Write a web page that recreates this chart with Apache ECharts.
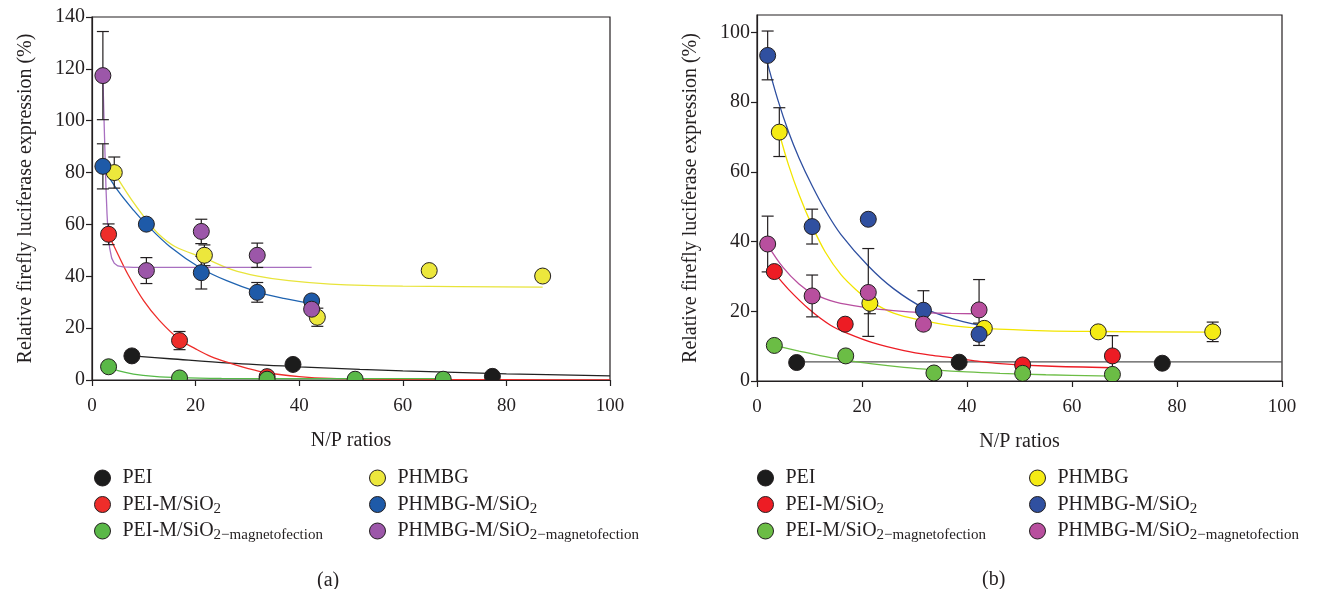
<!DOCTYPE html>
<html><head><meta charset="utf-8">
<script src="https://cdn.jsdelivr.net/npm/echarts@6/dist/echarts.min.js"></script>
<style>html,body{margin:0;padding:0;background:#fff}#c{width:1320px;height:589px}</style>
</head><body><div id="c"></div>
<script>
// ---------- shared ----------
const NAMES = ['PEI','PEI-M/SiO2','PEI-M/SiO2 magnetofection','PHMBG','PHMBG-M/SiO2','PHMBG-M/SiO2 magnetofection'];
const X_TICKS = [0,20,40,60,80,100];
const YA_TICKS = [0,20,40,60,80,100,120,140];
const YB_TICKS = [0,20,40,60,80,100];

// ---------- panel (a) points ----------
const A_PEI_X = [7.7, 38.8, 77.3];
const A_PEI_Y = [9.3, 6.0, 1.4];
const A_PEIM_X = [3.2, 16.9, 33.8];
const A_PEIM_Y = [56.2, 15.2, 1.3];
const A_PEIM_ERR = [4, 3.5, null];
const A_PEIMAG_X = [3.2, 16.9, 33.8, 50.8, 67.8];
const A_PEIMAG_Y = [5.1, 0.8, 0.3, 0.3, 0.3];
const A_PH_X = [4.3, 21.7, 43.5, 65.1, 87.0];
const A_PH_Y = [80.0, 48.1, 24.2, 42.2, 40.1];
const A_PH_ERR = [6, 4, 3.5, null, null];
const A_PHM_X = [2.1, 10.5, 21.1, 31.9, 42.4];
const A_PHM_Y = [82.4, 60.1, 41.4, 33.8, 30.5];
const A_PHM_ERR = [8.7, null, 6.3, 3.8, null];
const A_PHMAG_X = [2.1, 10.5, 21.1, 31.9, 42.4];
const A_PHMAG_Y = [117.4, 42.2, 57.3, 48.1, 27.3];
const A_PHMAG_ERR = [17, 5, 4.7, 4.7, null];

// ---------- panel (a) fitted curves ----------
const A_FIT_PEI = [[7.7,9.3],[15,8.2],[26.6,6.5],[40,5.1],[51.7,4.1],[60,3.5],[80,2.4],[100,1.6]];
const A_FIT_PEIM = [[3.2,56],[5,48.5],[7,40.5],[10,30.5],[13,23],[16.9,15.6],[20,12],[23,9],[26.6,6.5],[30,4.5],[33.7,2.8],[40,1.3],[46,0.6],[60,0.2],[80,0.1],[100,0.05]];
const A_FIT_PEIMAG = [[3.2,5.1],[5,3.6],[8,2.3],[12,1.4],[16.9,0.9],[25,0.6],[40,0.5],[67.8,0.5]];
const A_FIT_PH = [[4.3,80],[6,74.5],[8,68.5],[10.5,61.8],[13,56],[16,51.5],[21.7,47],[27,42.6],[32,40.1],[38,38.3],[46,37],[60,36.2],[87,35.8]];
const A_FIT_PHM = [[2.1,82],[5,73],[8,65.5],[10.5,60],[15,51.5],[21.1,43],[26,38.3],[31.9,34],[37,31.5],[42.4,29.5]];
const A_FIT_PHMAG = [[2.1,117],[2.3,102],[2.5,88],[2.7,74],[2.9,64],[3.1,57],[3.4,51],[3.8,47],[4.3,45],[5,44],[6,43.6],[8,43.4],[42.4,43.4]];

// ---------- panel (b) points ----------
const B_PEI_X = [7.55, 38.5, 77.2];
const B_PEI_Y = [5.3, 5.4, 5.1];
const B_PEIM_X = [3.3, 16.8, 50.6, 67.7];
const B_PEIM_Y = [31.4, 16.3, 4.6, 7.2];
const B_PEIM_ERR = [null, null, null, 5.8];
const B_PEIMAG_X = [3.3, 16.9, 33.7, 50.6, 67.7];
const B_PEIMAG_Y = [10.2, 7.2, 2.3, 2.2, 1.9];
const B_PH_X = [4.25, 21.5, 43.3, 65.0, 86.8];
const B_PH_Y = [71.4, 22.3, 15.1, 14.1, 14.1];
const B_PH_ERR = [7, 3, 1.5, null, 2.8];
const B_PHM_X = [2.03, 10.5, 21.2, 31.7, 42.3];
const B_PHM_Y = [93.4, 44.3, 46.4, 20.3, 13.4];
const B_PHM_ERR = [7, 5, null, 5.6, 3.2];
const B_PHMAG_X = [2.03, 10.5, 21.2, 31.7, 42.3];
const B_PHMAG_Y = [39.3, 24.4, 25.4, 16.3, 20.4];
const B_PHMAG_ERR = [8, 6, 12.6, null, 8.7];

// ---------- panel (b) fitted curves ----------
const B_FIT_PEI = [[7.55,5.5],[100,5.5]];
const B_FIT_PEIM = [[3.3,31],[6,26.3],[10,20.5],[14,16],[17.5,13.5],[22,11],[28,8.7],[33,7.4],[37,6.7],[42,5.7],[46.3,5],[55,4.3],[67.7,3.8]];
const B_FIT_PEIMAG = [[3.3,10.2],[8,8.6],[12,7.3],[17,6],[22,4.9],[28,3.9],[33.7,3.2],[40,2.6],[46.3,2.2],[55,1.8],[67.7,1.4]];
const B_FIT_PH = [[4.25,71],[6,62],[8,53.5],[10.5,44.5],[13,37],[16,30.5],[19,26],[21.5,23],[26,19.5],[31.7,17.3],[37,15.9],[43.3,15.1],[55,14.4],[65,14.2],[86.8,14]];
const B_FIT_PHM = [[2.03,91],[4,80.5],[6,71.5],[8,64],[10.5,56],[13,49],[16,42],[21.2,33],[26,26.5],[31.7,21],[37,18],[42.3,16]];
const B_FIT_PHMAG = [[2.03,39],[5,32.5],[8,27.8],[10.5,25.2],[15,22.6],[21.2,21],[26,20.2],[31.7,19.6],[37,19.4],[42.3,19.3]];

// ---------- styles ----------
const FONT = 'Liberation Serif';
const A_FILL = ['#1c1c1c','#ee2d2a','#5ab848','#ece73c','#1e5aa8','#9c57a9'];
const A_LINE = ['#222222','#ee2d2a','#55b948','#e8e43a','#1f63b0','#a86fc0'];
const B_FILL = ['#1c1c1c','#ed1c24','#6bbd45','#f5eb14','#3050a0','#b84f9e'];
const B_LINE = ['#555555','#ed1c24','#6cbd45','#f2e500','#2e4fa0','#b84e9f'];

const A_PTS = [
  [A_PEI_X, A_PEI_Y, null],
  [A_PEIM_X, A_PEIM_Y, A_PEIM_ERR],
  [A_PEIMAG_X, A_PEIMAG_Y, null],
  [A_PH_X, A_PH_Y, A_PH_ERR],
  [A_PHM_X, A_PHM_Y, A_PHM_ERR],
  [A_PHMAG_X, A_PHMAG_Y, A_PHMAG_ERR]
];
const A_FITS = [A_FIT_PEI, A_FIT_PEIM, A_FIT_PEIMAG, A_FIT_PH, A_FIT_PHM, A_FIT_PHMAG];
const B_PTS = [
  [B_PEI_X, B_PEI_Y, null],
  [B_PEIM_X, B_PEIM_Y, B_PEIM_ERR],
  [B_PEIMAG_X, B_PEIMAG_Y, null],
  [B_PH_X, B_PH_Y, B_PH_ERR],
  [B_PHM_X, B_PHM_Y, B_PHM_ERR],
  [B_PHMAG_X, B_PHMAG_Y, B_PHMAG_ERR]
];
const B_FITS = [B_FIT_PEI, B_FIT_PEIM, B_FIT_PEIMAG, B_FIT_PH, B_FIT_PHM, B_FIT_PHMAG];

function errRender(params, api) {
  const x = api.value(0), y = api.value(1), e = api.value(2);
  const t = api.coord([x, y + e]), b = api.coord([x, y - e]);
  const hw = 6, st = {stroke: '#231f20', lineWidth: 1.2};
  return {type: 'group', children: [
    {type: 'line', shape: {x1: t[0], y1: t[1], x2: b[0], y2: b[1]}, style: st},
    {type: 'line', shape: {x1: t[0]-hw, y1: t[1], x2: t[0]+hw, y2: t[1]}, style: st},
    {type: 'line', shape: {x1: b[0]-hw, y1: b[1], x2: b[0]+hw, y2: b[1]}, style: st}
  ]};
}

const series = [];
function addPanel(gi, pts, fits, fills, lines, suffix) {
  fits.forEach((f, i) => {
    series.push({type: 'line', name: 'fit' + gi + i, xAxisIndex: gi, yAxisIndex: gi, data: f,
      showSymbol: false, smooth: (gi === 0 && i === 5) ? false : 0.35, z: 2, silent: true,
      lineStyle: {color: lines[i], width: 1.3}});
  });
  const err = [];
  pts.forEach(p => { if (p[2]) p[0].forEach((x, k) => { if (p[2][k] != null) err.push([x, p[1][k], p[2][k]]); }); });
  series.push({type: 'custom', name: 'err' + gi, xAxisIndex: gi, yAxisIndex: gi, renderItem: errRender,
    data: err, z: 3, silent: true});
  pts.forEach((p, i) => {
    series.push({type: 'scatter', name: NAMES[i] + suffix, xAxisIndex: gi, yAxisIndex: gi,
      data: p[0].map((x, k) => [x, p[1][k]]), symbol: 'circle', symbolSize: 16, z: 4,
      itemStyle: {color: fills[i], borderColor: '#231f20', borderWidth: 1, opacity: 1}});
  });
}
addPanel(0, A_PTS, A_FITS, A_FILL, A_LINE, '');
addPanel(1, B_PTS, B_FITS, B_FILL, B_LINE, ' (b)');

function label(name) {
  const n = name.replace(' (b)', '');
  if (n === 'PEI' || n === 'PHMBG') return n;
  const base = n.startsWith('PEI') ? 'PEI-M/SiO' : 'PHMBG-M/SiO';
  if (n.endsWith('magnetofection')) return base + '{sub|2}{sub|\u2212magnetofection}';
  return base + '{sub|2}';
}
const legTxt = {fontFamily: FONT, fontSize: 20, color: '#231f20', lineHeight: 24,
  rich: {sub: {fontFamily: FONT, fontSize: 15, color: '#231f20', lineHeight: 15, verticalAlign: 'bottom'}}};
function legend(left, names) {
  return {left: left, top: 466, orient: 'vertical', data: names, icon: 'circle', itemWidth: 30, itemHeight: 16,
    itemGap: 2.5, padding: 0, selectedMode: false, formatter: label, textStyle: legTxt,
    itemStyle: {borderColor: '#231f20', borderWidth: 1}};
}

function xAxis(gi) {
  return {type: 'value', gridIndex: gi, min: 0, max: 100, interval: 20, z: 200,
    name: 'N/P ratios', nameLocation: 'middle', nameGap: 51,
    nameTextStyle: {fontFamily: FONT, fontSize: 20, color: '#231f20'},
    axisLine: {show: true, lineStyle: {color: '#231f20', width: 1.2}},
    axisTick: {show: true, length: 6, lineStyle: {color: '#231f20', width: 1.2}},
    axisLabel: {fontFamily: FONT, fontSize: 19, color: '#231f20', margin: 17},
    splitLine: {show: false}};
}
function yAxis(gi, max, ticks) {
  return {type: 'value', gridIndex: gi, min: 0, max: max, interval: 20, z: 200,
    name: 'Relative firefly luciferase expression (%)', nameLocation: 'middle', nameGap: 56, nameRotate: 90,
    nameTextStyle: {fontFamily: FONT, fontSize: 20, color: '#231f20'},
    axisLine: {show: true, lineStyle: {color: '#231f20', width: 1.2}},
    axisTick: {show: true, length: 6, customValues: ticks, lineStyle: {color: '#231f20', width: 1.2}},
    axisLabel: {fontFamily: FONT, fontSize: 20, color: '#231f20', margin: 7, customValues: ticks,
      formatter: v => (ticks.indexOf(v) >= 0 ? String(v) : '')},
    splitLine: {show: false}};
}

const option = {
  animation: false,
  backgroundColor: '#ffffff',
  grid: [
    {left: 92, top: 17, width: 518, height: 363, show: true, borderColor: '#231f20', borderWidth: 1.2, backgroundColor: 'transparent'},
    {left: 757, top: 15, width: 525, height: 366, show: true, borderColor: '#231f20', borderWidth: 1.2, backgroundColor: 'transparent'}
  ],
  xAxis: [xAxis(0), xAxis(1)],
  yAxis: [yAxis(0, 140, YA_TICKS), yAxis(1, 105, YB_TICKS)],
  legend: [
    legend(94, NAMES.slice(0, 3)),
    legend(369, NAMES.slice(3)),
    legend(757, NAMES.slice(0, 3).map(n => n + ' (b)')),
    legend(1029, NAMES.slice(3).map(n => n + ' (b)'))
  ],
  graphic: [
    {type: 'rect', left: 92, top: 381, shape: {width: 519, height: 12}, style: {fill: '#fff'}, z: 100, silent: true},
    {type: 'rect', left: 757, top: 382, shape: {width: 526, height: 12}, style: {fill: '#fff'}, z: 100, silent: true},
    {type: 'text', left: 317, top: 571, style: {text: '(a)', font: '20px "Liberation Serif"', fill: '#231f20'}},
    {type: 'text', left: 982, top: 570, style: {text: '(b)', font: '20px "Liberation Serif"', fill: '#231f20'}}
  ],
  series: series
};
const chart = echarts.init(document.getElementById('c'), null, {renderer: 'canvas'});
chart.setOption(option);
</script></body></html>
